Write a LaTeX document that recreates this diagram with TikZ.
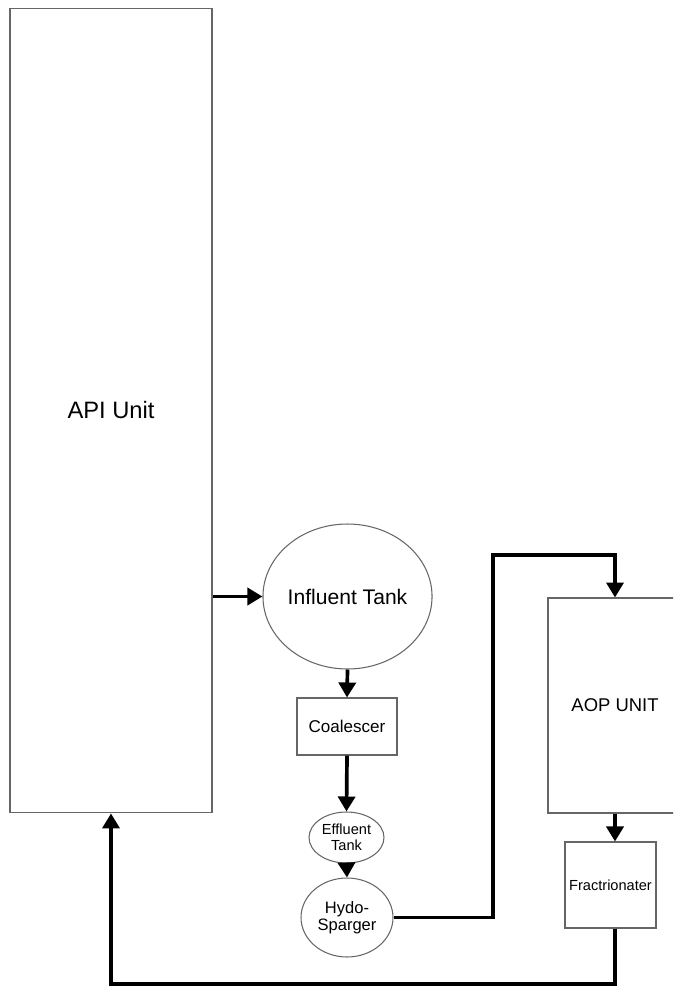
\documentclass[tikz,border=0pt]{standalone}
\usepackage{fontspec}
\setmainfont{Liberation Sans}
\usetikzlibrary{arrows.meta,shapes.geometric}

\tikzset{
  unit/.style={draw=black!60, line width=0.6pt, rectangle, align=center, inner sep=0pt},
  tank/.style={draw=black!60, line width=0.6pt, ellipse, align=center, inner sep=0pt},
  flow/.style={line width=2.1pt, -{Triangle[length=3mm,width=3.4mm]}}
}

\begin{document}
\begin{tikzpicture}[x=0.02cm, y=-0.02cm]
  \useasboundingbox (0,0) rectangle (673,986);
  \clip (0,0) rectangle (673,986);

  \node[unit, minimum width=4.04cm, minimum height=16.1cm,
    font=\fontsize{13.5}{16}\selectfont] (api) at (111,410.5) {API Unit};
  \node[tank, minimum width=3.38cm, minimum height=2.9cm,
    font=\fontsize{12}{14}\selectfont] (influent) at (347.5,596.5) {Influent Tank};
  \node[unit, minimum width=2cm, minimum height=1.14cm,
    font=\fontsize{9.7}{11}\selectfont] (coal) at (347,726.5) {Coalescer};
  \node[tank, minimum width=1.5cm, minimum height=1.02cm,
    font=\fontsize{8.3}{8.8}\selectfont] (effluent) at (346.5,837.5) {Effluent\\Tank};
  \node[tank, minimum width=1.84cm, minimum height=1.58cm,
    font=\fontsize{9.4}{9.8}\selectfont] (hydo) at (347,917.5) {Hydo-\\Sparger};
  \node[unit, minimum width=2.68cm, minimum height=4.3cm,
    font=\fontsize{10.5}{12}\selectfont] (aop) at (615,705.5) {AOP UNIT};
  \node[unit, minimum width=1.82cm, minimum height=1.72cm,
    font=\fontsize{8.3}{10}\selectfont] (frac) at (610.5,885) {Fractrionater};

  \coordinate (riser) at (493,555);
  \coordinate (back) at (111,984);

  % main line
  \draw[flow] (api.east |- influent.west) -- (influent.west);
  \draw[flow] (influent.south) -- (coal.north);
  \draw[flow] (coal.south) -- (effluent.north);
  \draw[flow] (effluent.south) -- (hydo.north);

  % to AOP and back
  \draw[flow] (hydo.east) -| (riser) -| (aop.north);
  \draw[flow] (aop.south) -- (aop.south |- frac.north);
  \draw[flow] (aop.south |- frac.south) |- (back) -- (api.south);
\end{tikzpicture}
\end{document}
